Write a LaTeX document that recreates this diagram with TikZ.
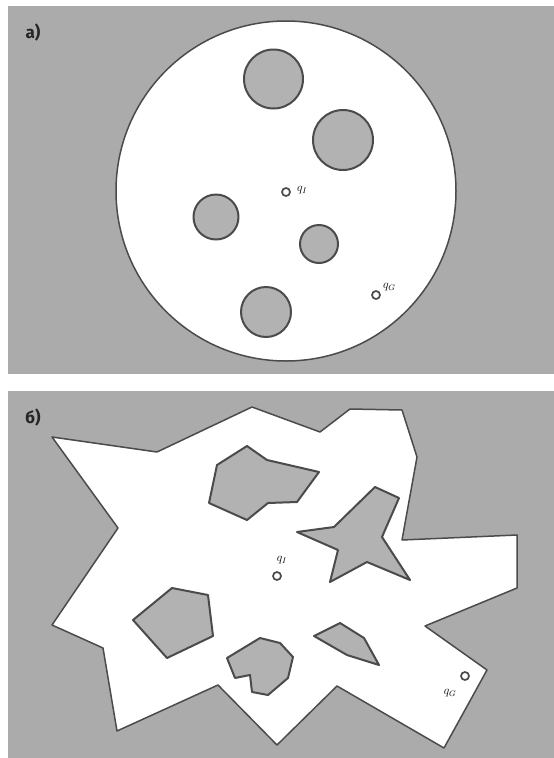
\documentclass[tikz,border=0pt]{standalone}
\usepackage{fontspec}
\newfontfamily\tagfont{Fira Sans}
\definecolor{bgray}{RGB}{171,171,171}
\definecolor{ogray}{RGB}{178,178,178}
\definecolor{edge}{RGB}{75,75,75}
\begin{document}
\begin{tikzpicture}[x=1pt,y=-1pt,
  free/.style={fill=white,draw=edge,line width=1.5pt,line join=round},
  obst/.style={fill=ogray,draw=edge,line width=2pt,line join=round},
  ptn/.style={circle,draw=edge,fill=white,line width=1.7pt,inner sep=0pt,minimum size=8pt},
  lab/.style={font=\fontsize{12}{14}\selectfont,inner sep=0pt},
  tag/.style={font=\tagfont\bfseries\fontsize{17}{19}\selectfont,inner sep=0pt,text=black!85}]
\useasboundingbox (0,0) rectangle (554,758);
\fill[white] (0,0) rectangle (554,758);
% panel a
\fill[bgray] (8,6) rectangle (554,374);
\node[tag] (ta) at (33,33) {a)};
\draw[free] (286,191) circle[radius=170];
\draw[obst] (273.5,79) circle[radius=29.5];
\draw[obst] (343,140) circle[radius=30];
\draw[obst] (216,217) circle[radius=22.5];
\draw[obst] (319,244) circle[radius=19];
\draw[obst] (266,312) circle[radius=25];
\node[ptn] (qia) at (286,192) {};
\node[lab,anchor=west] (lqia) at (297,190) {$q_I$};
\node[ptn] (qga) at (376,295) {};
\node[lab,anchor=south west] (lqga) at (383,291) {$q_G$};
% panel b
\fill[bgray] (8,391) rectangle (554,758);
\node[tag] (tb) at (33,418) {б)};
\draw[free] (52,437) -- (157,452) -- (252,407) -- (320,432) -- (350,409) -- (402,410)
  -- (417,457) -- (402,540) -- (517,535) -- (517,588) -- (425,626) -- (487,670)
  -- (444,748) -- (337,686) -- (277,745) -- (218,685) -- (117,731) -- (103,648)
  -- (52,625) -- (118,528) -- cycle;
\draw[obst] (217,465) -- (247,446) -- (267,460) -- (319,472) -- (297,502) -- (268,503)
  -- (247,520) -- (209,503) -- cycle;
\draw[obst] (297,532) -- (334,527) -- (375,487) -- (399,498) -- (382,537) -- (410,580)
  -- (367,562) -- (330,582) -- (338,550) -- cycle;
\draw[obst] (133,620) -- (172,588) -- (208,595) -- (213,636) -- (167,658) -- cycle;
\draw[obst] (314,636) -- (340,623) -- (364,638) -- (379,665) -- (347,655) -- cycle;
\draw[obst] (227,658) -- (260,638) -- (280,643) -- (293,657) -- (288,678) -- (268,695)
  -- (252,692) -- (250,675) -- (235,678) -- cycle;
\node[ptn] (qib) at (277,576) {};
\node[lab] (lqib) at (282,560) {$q_I$};
\node[ptn] (qgb) at (465,676) {};
\node[lab] (lqgb) at (450,693) {$q_G$};
\end{tikzpicture}
\end{document}
